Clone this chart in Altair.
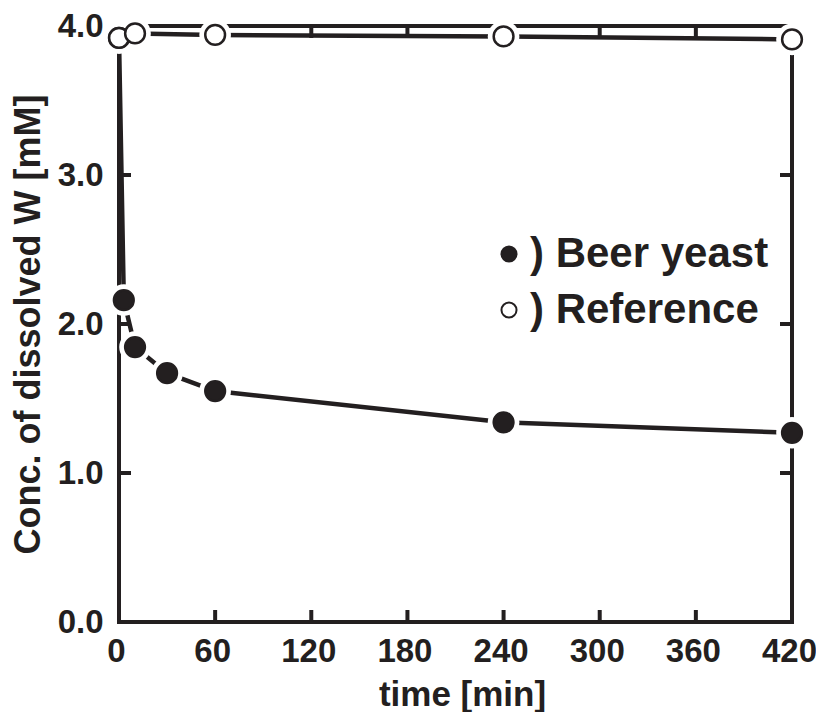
import altair as alt
import pandas as pd

# ---- data ----
yeast_t = [0, 3, 10, 30, 60, 240, 420]
yeast_c = [3.92, 2.16, 1.845, 1.67, 1.55, 1.34, 1.27]
ref_t = [0, 10, 60, 240, 420]
ref_c = [3.92, 3.95, 3.94, 3.93, 3.91]
series_names = ["Beer yeast", "Reference"]
x_tick_values = [0, 60, 120, 180, 240, 300, 360, 420]
y_tick_values = [0, 1, 2, 3, 4]
x_inner_ticks = [60, 120, 180, 240, 300, 360]
y_inner_ticks = [1, 2, 3]

INK = "#231f20"
FONT = "Liberation Sans"
W, H = 673, 596

df = pd.DataFrame(
    {"series": [series_names[0]] * len(yeast_t) + [series_names[1]] * len(ref_t),
     "t": yeast_t + ref_t,
     "c": yeast_c + ref_c}
)
df["order"] = range(len(df))
xt = pd.DataFrame({"t": x_inner_ticks})
yt = pd.DataFrame({"c": y_inner_ticks})

xscale = alt.Scale(domain=[0, 420], nice=False, zero=False)
yscale = alt.Scale(domain=[0, 4], nice=False, zero=False)

X = alt.X("t:Q", scale=xscale, axis=alt.Axis(
    values=x_tick_values, format="d", ticks=False, domain=False, grid=False,
    labelFlush=False, labelOverlap=False, labelOffset=-3,
    labelPadding=13, labelFontSize=33, labelFont=FONT, labelFontWeight="bold",
    labelColor=INK, title="time [min]", titleFontSize=35, titleFont=FONT,
    titleFontWeight="bold", titleColor=INK, titleX=343, titleY=83,
    titleBaseline="alphabetic", titleAlign="center"))
Y = alt.Y("c:Q", scale=yscale, axis=alt.Axis(
    values=y_tick_values, format=".1f", ticks=False, domain=False, grid=False,
    labelFlush=False, labelOverlap=False,
    labelPadding=16, labelFontSize=33, labelFont=FONT, labelFontWeight="bold",
    labelColor=INK, title="Conc. of dissolved W [mM]", titleFontSize=36,
    titleFont=FONT, titleFontWeight="bold", titleColor=INK, titleX=-91,
    titleY=H / 2, titleAngle=270, titleAlign="center", titleBaseline="middle"))
Xp = alt.X("t:Q", scale=xscale)
Yp = alt.Y("c:Q", scale=yscale)

lines = alt.Chart(df).mark_line(strokeWidth=4.5, color=INK).encode(
    x=X, y=Y, detail="series:N")

halo = alt.Chart(df).mark_circle(size=1000, opacity=1, color="white").encode(
    x=Xp, y=Yp)

markers = alt.Chart(df).mark_circle(size=390, opacity=1, stroke=INK,
                                    strokeWidth=2.5).encode(
    x=Xp, y=Yp,
    order=alt.Order("order:Q"),
    fill=alt.Fill("series:N",
                  scale=alt.Scale(domain=series_names, range=[INK, "white"]),
                  legend=alt.Legend(
                      orient="none", legendX=369, legendY=207, title=None,
                      padding=0, labelFont=FONT, labelFontSize=42,
                      labelFontWeight="bold", labelColor=INK,
                      labelExpr="') ' + datum.label", labelLimit=600,
                      labelOffset=0, symbolType="circle", symbolSize=227,
                      symbolStrokeColor=INK, symbolStrokeWidth=2,
                      rowPadding=14)))

bottom_ticks = alt.Chart(xt).mark_rule(strokeWidth=4, color=INK).encode(
    x=Xp, y=alt.value(H), y2=alt.value(H - 12))
top_ticks = alt.Chart(xt).mark_rule(strokeWidth=4, color=INK).encode(
    x=Xp, y=alt.value(0), y2=alt.value(12))
left_ticks = alt.Chart(yt).mark_rule(strokeWidth=4, color=INK).encode(
    y=Yp, x=alt.value(0), x2=alt.value(12))
right_ticks = alt.Chart(yt).mark_rule(strokeWidth=4, color=INK).encode(
    y=Yp, x=alt.value(W), x2=alt.value(W - 12))

chart = alt.layer(
    lines, bottom_ticks, top_ticks, left_ticks, right_ticks, halo, markers
).properties(
    width=W, height=H,
    autosize=alt.AutoSizeParams(type="none"),
    padding={"left": 111, "top": 18, "right": 24, "bottom": 90},
    background="white",
).configure_view(stroke=INK, strokeWidth=4)

chart.save("out.html", embed_options={"renderer": "svg", "actions": False})
